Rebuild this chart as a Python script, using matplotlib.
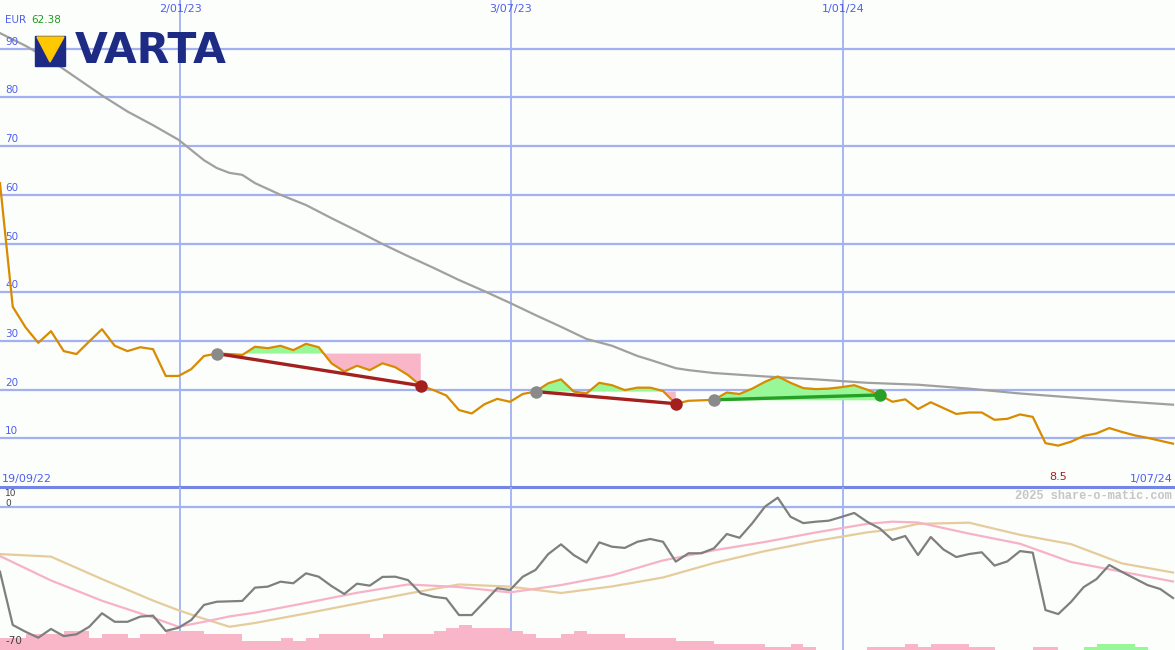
import matplotlib
matplotlib.use('Agg')
import matplotlib.pyplot as plt
from matplotlib.patches import Rectangle, Polygon
import numpy as np

# weekly closing price (EUR), week 0 = 19/09/22
price = [62.38, 37.0, 32.8, 29.6, 32.0, 27.9, 27.3, 29.9, 32.4, 29.0,
         27.9, 28.7, 28.3, 22.8, 22.8, 24.2, 26.9, 27.4, 27.3, 27.1,
         28.8, 28.5, 29.0, 28.1, 29.4, 28.7, 25.4, 23.7, 24.9, 24.0,
         25.4, 24.6, 23.0, 20.8, 19.9, 18.8, 15.8, 15.1, 17.0, 18.1,
         17.5, 19.1, 19.6, 21.3, 22.1, 19.6, 19.2, 21.4, 20.9, 19.9,
         20.4, 20.4, 19.7, 17.1, 17.7, 17.8, 17.9, 19.4, 19.1, 20.2,
         21.6, 22.7, 21.4, 20.3, 20.1, 20.2, 20.5, 20.9, 20.0, 18.9,
         17.5, 18.0, 16.0, 17.4, 16.2, 15.0, 15.3, 15.3, 13.8, 14.0,
         14.9, 14.4, 9.0, 8.5, 9.3, 10.5, 11.0, 12.1, 11.3, 10.6,
         10.1, 9.5, 8.9]
weeks = np.arange(len(price))

# long moving average (grey line)
ma_weeks = [0, 2, 4, 6, 8, 10, 12, 14, 16, 17, 18, 19, 20, 22, 24, 26, 28, 30,
            32, 34, 36, 38, 40, 42, 44, 46, 48, 50, 51, 53, 54, 56, 60, 64, 68,
            72, 76, 80, 84, 88, 92]
ma_long = [93.2, 90.6, 87.6, 84.0, 80.4, 77.1, 74.3, 71.3, 67.1, 65.5, 64.5,
           64.1, 62.4, 60.0, 57.9, 55.2, 52.6, 49.9, 47.4, 45.0, 42.5, 40.2,
           37.8, 35.3, 32.9, 30.4, 29.0, 26.9, 26.1, 24.4, 24.0, 23.4, 22.7,
           22.1, 21.4, 21.0, 20.2, 19.2, 18.4, 17.6, 16.9]

# lower panel: momentum + two signal lines + histogram
momentum = [-32.6, -59.4, -62.8, -65.8, -61.4, -65.0, -64.1, -60.3, -53.5, -57.8,
            -57.8, -55.2, -54.7, -62.4, -60.8, -56.9, -49.3, -47.7, -47.5, -47.3,
            -40.6, -40.1, -37.6, -38.4, -33.4, -35.1, -39.8, -43.8, -38.6, -39.6,
            -35.2, -35.1, -36.8, -43.5, -45.2, -46.0, -54.4, -54.4, -47.7, -40.9,
            -41.8, -35.1, -31.7, -23.7, -18.8, -24.2, -28.0, -17.8, -20.0, -20.6,
            -17.5, -16.1, -17.5, -27.5, -23.3, -23.3, -20.8, -13.6, -15.5, -8.2,
            0.2, 4.7, -4.9, -8.1, -7.4, -6.9, -5.0, -3.0, -7.4, -10.8,
            -16.6, -14.6, -24.2, -15.1, -21.4, -25.2, -23.7, -22.8, -29.5, -27.4,
            -22.2, -23.0, -51.9, -53.9, -47.8, -40.3, -36.3, -29.2, -32.7, -36.0,
            -39.3, -41.3, -45.8]
sig_weeks = [0, 4, 8, 12, 14, 16, 18, 20, 24, 28, 32, 36, 40, 44, 48, 52, 56,
             60, 64, 68, 70, 72, 76, 80, 84, 88, 92]
sig_fast = [-24.7, -37.0, -47.2, -55.7, -60.3, -57.8, -55.1, -53.2, -48.3, -43.2,
            -39.0, -40.3, -43.0, -39.3, -34.4, -26.9, -21.8, -17.6, -12.8, -8.5,
            -7.4, -7.8, -13.4, -18.5, -27.7, -32.6, -37.5]
sig_slow = [-23.7, -25.0, -36.3, -47.1, -52.0, -56.3, -60.3, -58.4, -53.6, -48.6,
            -43.6, -39.0, -40.1, -43.3, -40.0, -35.5, -28.2, -22.2, -17.1, -12.8,
            -11.3, -8.5, -7.9, -14.0, -18.7, -28.4, -33.0]
hist = [-4, -4, -5, -5, -5, -6, -6, -4, -5, -5,
        -4, -5, -5, -6, -6, -6, -5, -5, -5, -3,
        -3, -3, -4, -3, -4, -5, -5, -5, -5, -4,
        -5, -5, -5, -5, -6, -7, -8, -7, -7, -7,
        -6, -5, -4, -4, -5, -6, -5, -5, -5, -4,
        -4, -4, -4, -3, -3, -3, -2, -2, -2, -2,
        -1, -1, -2, -1, 0, 0, 0, 0, -1, -1,
        -1, -2, -1, -2, -2, -2, -1, -1, 0, 0,
        0, -1, -1, 0, 0, 1, 2, 2, 2, 1,
        0, 0, 0]

# trend segments (start week, end week)
trends = [(17, 33), (42, 53), (56, 69)]

date_pos = [14.12, 40.08, 66.12]
date_labels = ['2/01/23', '3/07/23', '1/01/24']
first_date, last_date = '19/09/22', '1/07/24'

W, H = 1175, 650
bg = '#fbfefb'
gridc = '#a3b0f2'
bluetxt = '#4f5ff0'
orange = '#d98b00'


def px(x, y):
    return x / W, 1 - y / H


fig = plt.figure(figsize=(W / 100, H / 100), dpi=100, facecolor=bg)
ax = fig.add_axes([0, 163 / H, 1, 487 / H], facecolor=bg)
ax2 = fig.add_axes([0, 0, 1, 163 / H], facecolor=bg)
xmax = W / 12.75
for a in (ax, ax2):
    a.set_xlim(0, xmax)
    a.axis('off')
    for p in date_pos:
        a.axvline(p, color=gridc, lw=1.3, zorder=0)

# main panel
ax.set_ylim(0, 100)
for v in range(10, 100, 10):
    ax.axhline(v, color=gridc, lw=1.6, zorder=0)
    ax.text(0.4, v + 0.4, str(v), color=bluetxt, fontsize=7.5, va='bottom')
ax.axhline(0, color='#7585e6', lw=2.2, zorder=1, clip_on=False)

ax.plot(ma_weeks, ma_long, color='#a0a0a0', lw=1.6, zorder=2)

p = np.array(price)
for s, e in trends:
    xs = weeks[s:e + 1]
    ys = p[s:e + 1]
    lvl = p[s]
    ax.fill_between(xs, ys, lvl, where=ys >= lvl, interpolate=True,
                    color='#98f898', lw=0, zorder=1)
    ax.fill_between(xs, ys, lvl, where=ys <= lvl, interpolate=True,
                    color='#f9b6c9', lw=0, zorder=1)

ax.plot(weeks, price, color=orange, lw=1.6, zorder=3)

for s, e in trends:
    c = '#27a027' if p[e] >= p[s] else '#a3201f'
    ax.plot([s, e], [p[s], p[e]], color=c, lw=2.4, zorder=4)
    ax.plot(s, p[s], 'o', color='#8a8a8a', ms=9, mec='none', zorder=5)
    ax.plot(e, p[e], 'o', color=c, ms=9, mec='none', zorder=5)

kmin = int(np.argmin(p))
ax.text(kmin, 1.0, f'{p[kmin]:.1f}', color='#a3201f', fontsize=8,
        ha='center', va='bottom')

# lower panel
ax2.set_ylim(-72, 10.07)
ax2.axhline(0, color=gridc, lw=1.6, zorder=0)
h = np.array(hist)
ax2.bar(weeks, np.abs(h) * 1.57, bottom=-72, width=1, align='edge',
        color=['#98f898' if v > 0 else '#f9b6c9' for v in h], lw=0, zorder=1)
ax2.plot(sig_weeks, sig_slow, color='#e6cc9c', lw=1.6, zorder=2)
ax2.plot(sig_weeks, sig_fast, color='#f8b2c8', lw=1.6, zorder=2)
ax2.plot(weeks, momentum, color='#7f7f7f', lw=1.6, zorder=3)

# labels
for pos, lab in zip(date_pos, date_labels):
    fig.text(pos * 12.75 / W, 1 - 9 / H, lab, color=bluetxt, fontsize=8,
             ha='center', va='center')
fig.text(*px(2, 479), first_date, color=bluetxt, fontsize=8, va='center')
fig.text(*px(1173, 479), last_date, color=bluetxt, fontsize=8,
         ha='right', va='center')
fig.text(*px(5, 20), 'EUR', color=bluetxt, fontsize=7.5, va='center')
fig.text(*px(31, 20), f'{price[0]:.2f}', color='#1f9a1f', fontsize=7.5,
         va='center')
fig.text(*px(1172, 496), '2025 share-o-matic.com', color='#c6c6c6',
         fontsize=8.6, family='Liberation Mono', weight='bold',
         ha='right', va='center')
fig.text(*px(5, 494), '10', color='#404040', fontsize=6.5, va='center')
fig.text(*px(5, 503), '0', color='#404040', fontsize=6.5, va='center')
fig.text(*px(6, 641), '-70', color='#404040', fontsize=7.5, va='center')

# VARTA logo
fig.patches.append(Rectangle(px(35, 66), 30 / W, 30 / H, color='#1d2b85',
                             transform=fig.transFigure, zorder=6))
fig.patches.append(Polygon([px(37, 37), px(64, 37), px(50, 62)], closed=True,
                           color='#ffc800', transform=fig.transFigure, zorder=7))
fig.text(*px(75, 51), 'VARTA', color='#1d2b85', fontsize=30.5,
         weight='bold', va='center', zorder=8)

fig.savefig('out.png', dpi=100, facecolor=bg)
